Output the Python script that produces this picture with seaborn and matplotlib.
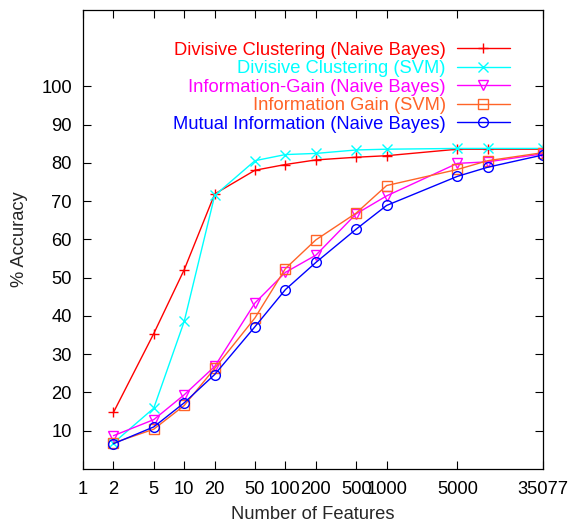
import numpy as np
import pandas as pd
import matplotlib
matplotlib.use("Agg")
import matplotlib.pyplot as plt
import seaborn as sns
from matplotlib.ticker import FixedLocator, FixedFormatter, NullLocator

# number of features selected
features = [2, 5, 10, 20, 50, 100, 200, 500, 1000, 5000, 10000, 35077]

# % accuracy per method
dc_nb = [14.8, 35.4, 52.1, 71.9, 78.1, 79.6, 80.8, 81.5, 81.9, 83.6, 83.6, 83.6]
dc_svm = [6.8, 15.9, 38.6, 71.5, 80.6, 82.2, 82.5, 83.4, 83.6, 83.8, 83.8, 83.8]
ig_nb = [8.7, 12.9, 19.4, 26.8, 43.4, 51.4, 55.9, 66.7, 71.4, 79.9, 80.3, 82.4]
ig_svm = [6.8, 10.4, 16.6, 26.3, 39.5, 52.4, 59.9, 66.9, 74.1, 78.3, 80.6, 82.7]
mi_nb = [6.6, 11.0, 17.3, 24.7, 37.2, 46.9, 54.0, 62.7, 68.9, 76.5, 78.9, 82.1]

labels = ['Divisive Clustering (Naive Bayes)', 'Divisive Clustering (SVM)',
          'Information-Gain (Naive Bayes)', 'Information Gain (SVM)',
          'Mutual Information (Naive Bayes)']
series = [dc_nb, dc_svm, ig_nb, ig_svm, mi_nb]
colors = ['#ff0000', '#00ffff', '#ff00ff', '#ff6428', '#0000ff']
markers = ['+', 'x', 'v', 's', 'o']

xticks = [1, 2, 5, 10, 20, 50, 100, 200, 500, 1000, 5000, 35077]
yticks = [10, 20, 30, 40, 50, 60, 70, 80, 90, 100]

sns.set_style("ticks")
plt.rcParams['font.family'] = ['Liberation Sans', 'DejaVu Sans']
plt.rcParams['font.size'] = 13.2

fig = plt.figure(figsize=(5.69, 5.25), dpi=100)
ax = fig.add_axes([0.1459, 0.1067, 0.8084, 0.8743])

for lab, vals, c, m in zip(labels, series, colors, markers):
    df = pd.DataFrame({'features': features, 'accuracy': vals})
    sns.lineplot(data=df, x='features', y='accuracy', ax=ax, color=c, lw=1.0,
                 marker=m, markersize=7, markerfacecolor='none',
                 markeredgecolor=c, markeredgewidth=1.0, label=lab)

ax.set_xscale('log')
ax.set_xlim(1, 35077)
ax.set_ylim(0, 120)
ax.xaxis.set_major_locator(FixedLocator(xticks))
ax.xaxis.set_major_formatter(FixedFormatter([str(t) for t in xticks]))
ax.xaxis.set_minor_locator(NullLocator())
ax.set_yticks(yticks)

ax.tick_params(direction='in', length=5.5, width=0.8, top=True, right=True,
               labelsize=13.2, colors='black')
ax.tick_params(axis='x', pad=9)
ax.tick_params(axis='y', pad=8)
for s in ax.spines.values():
    s.set_linewidth(0.9)
    s.set_color('black')

ax.set_xlabel('Number of Features', fontsize=13.2, va='center')
ax.xaxis.set_label_coords(0.5, -0.10)
ax.set_ylabel('% Accuracy', fontsize=13.2, va='center')
ax.yaxis.set_label_coords(-0.137, 0.5)

ax.legend(loc='upper right', bbox_to_anchor=(0.928, 0.931), frameon=False,
          markerfirst=False, labelcolor='linecolor', fontsize=13.2,
          handlelength=2.9, handletextpad=0.6, labelspacing=0.08,
          borderpad=0, borderaxespad=0)

fig.savefig('out.png', dpi=100)
